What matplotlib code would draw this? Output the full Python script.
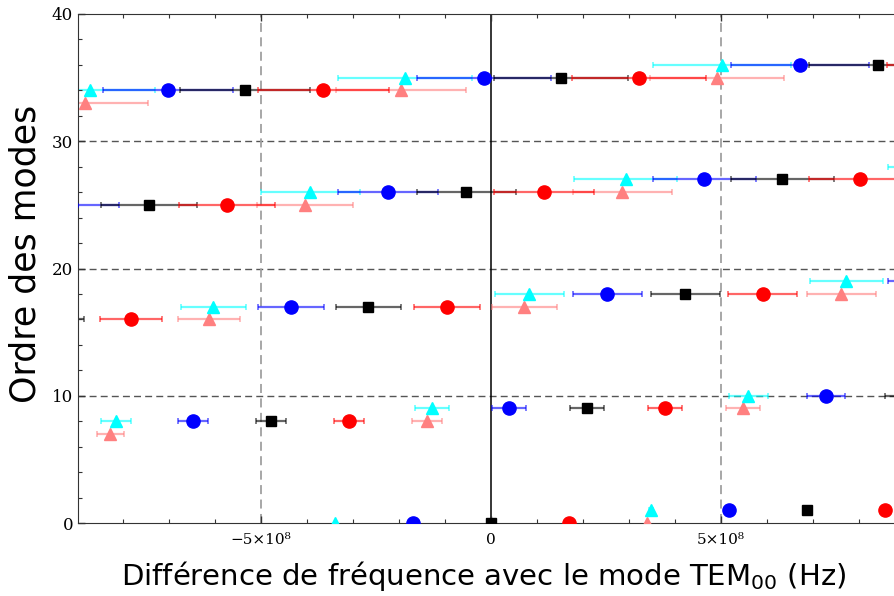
import matplotlib.pyplot as plt
from matplotlib.ticker import MultipleLocator

# ordre des modes -> demi-largeur de la barre d'erreur (Hz)
orders = [0, 1, 7, 8, 9, 10, 16, 17, 18, 19, 25, 26, 27, 28, 33, 34, 35, 36]
half_width = [0, 0.04e8, 0.29e8, 0.33e8, 0.37e8, 0.42e8, 0.67e8, 0.71e8, 0.75e8,
              0.79e8, 1.04e8, 1.08e8, 1.12e8, 1.17e8, 1.38e8, 1.42e8, 1.46e8, 1.50e8]
err_of = dict(zip(orders, half_width))

# frequences (Hz)
cyan_x = [-3.39e8, 3.48e8, -8.15e8, -1.28e8, 5.59e8, -6.04e8, 0.83e8, 7.72e8,
          -3.93e8, 2.93e8, 9.80e8, -8.72e8, -1.87e8, 5.02e8]
cyan_y = [0, 1, 8, 9, 10, 17, 18, 19, 26, 27, 28, 34, 35, 36]

blue_x = [-1.70e8, 5.17e8, -6.48e8, 0.39e8, 7.28e8, -4.35e8, 2.52e8, 9.41e8,
          -9.13e8, -2.24e8, 4.63e8, -7.02e8, -0.15e8, 6.72e8]
blue_y = [0, 1, 8, 9, 10, 17, 18, 19, 25, 26, 27, 34, 35, 36]

black_x = [0.0, 6.87e8, -4.78e8, 2.09e8, 8.98e8, -9.52e8, -2.67e8, 4.22e8,
           -7.43e8, -0.54e8, 6.33e8, -5.35e8, 1.52e8, 8.41e8]
black_y = [0, 1, 8, 9, 10, 16, 17, 18, 25, 26, 27, 34, 35, 36]

red_x = [1.70e8, 8.57e8, -3.09e8, 3.78e8, -7.83e8, -0.96e8, 5.91e8,
         -5.74e8, 1.15e8, 8.02e8, -3.65e8, 3.22e8, 10.11e8]
red_y = [0, 1, 8, 9, 16, 17, 18, 25, 26, 27, 34, 35, 36]

pink_x = [3.39e8, -8.28e8, -1.39e8, 5.48e8, -6.13e8, 0.72e8, 7.61e8,
          -4.04e8, 2.85e8, -8.83e8, -1.96e8, 4.91e8]
pink_y = [0, 7, 8, 9, 16, 17, 18, 25, 26, 33, 34, 35]

series = [
    (pink_x, pink_y, '#ff8080', '^', 8.5),
    (cyan_x, cyan_y, '#00ffff', '^', 8.5),
    (blue_x, blue_y, '#0000ff', 'o', 9.5),
    (black_x, black_y, '#000000', 's', 7.5),
    (red_x, red_y, '#ff0000', 'o', 9.5),
]

plt.rcParams['mathtext.fontset'] = 'dejavusans'

fig = plt.figure(figsize=(8.95, 5.96), dpi=100)
ax = fig.add_axes([78 / 895, 1 - 523 / 596, 1 - 78 / 895, (523 - 14) / 596])

# grille
for yy in [10, 20, 30]:
    ax.axhline(yy, color='#555555', lw=1.0, ls=(0, (5, 3)), zorder=0)
for xx in [-5e8, 5e8]:
    ax.axvline(xx, color='#a0a0a0', lw=1.3, ls=(0, (5, 3)), zorder=0)
ax.axvline(0, color='black', lw=1.1, zorder=0)

for xs, ys, col, mk, ms in series:
    errs = [err_of[v] for v in ys]
    ax.errorbar(xs, ys, xerr=errs, fmt='none', ecolor=col, alpha=0.6,
                elinewidth=1.6, capsize=2.5, capthick=1.2, zorder=1)
    ax.plot(xs, ys, ls='none', marker=mk, ms=ms, color=col, mec=col, zorder=3)

ax.set_xlim(-8.98e8, 8.78e8)
ax.set_ylim(0, 40)

ax.set_xticks([-5e8, 0, 5e8])
ax.set_xticklabels(['\u22125\u00d710\u2078', '0', '5\u00d710\u2078'],
                   fontfamily='DejaVu Serif', fontsize=11)
ax.xaxis.set_minor_locator(MultipleLocator(1e8))
ax.set_yticks([0, 10, 20, 30, 40])
ax.set_yticklabels(['0', '10', '20', '30', '40'], fontfamily='DejaVu Serif', fontsize=12)
ax.yaxis.set_minor_locator(MultipleLocator(2))

ax.tick_params(which='both', direction='in', top=True, right=False, color='#333333')
ax.tick_params(which='major', length=5, width=1)
ax.tick_params(which='minor', length=3, width=0.8)
ax.tick_params(axis='x', pad=7)
ax.spines['right'].set_visible(False)
for s in ['left', 'bottom', 'top']:
    ax.spines[s].set_color('#333333')

ax.set_xlabel('Différence de fréquence avec le mode TEM$_{00}$ (Hz)', fontsize=21)
ax.set_ylabel('Ordre des modes', fontsize=25)
ax.xaxis.set_label_coords(0.497, -0.071)
ax.yaxis.set_label_coords(-0.044, 0.528)

fig.savefig('out.png', dpi=100)
